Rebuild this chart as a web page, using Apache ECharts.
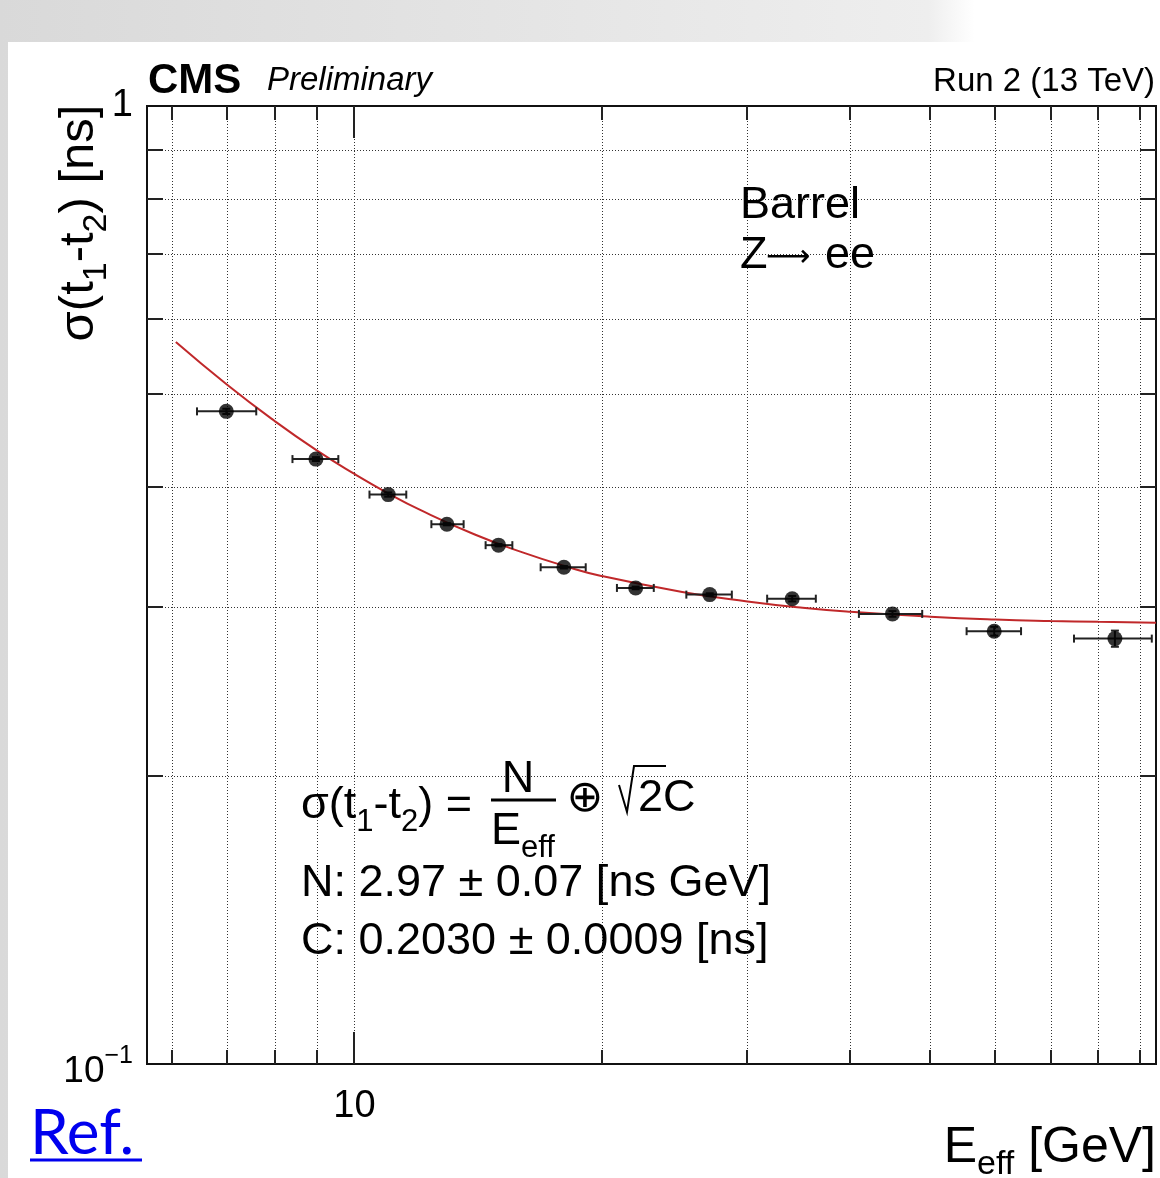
<!DOCTYPE html>
<html><head><meta charset="utf-8">
<script src="https://cdn.jsdelivr.net/npm/echarts@6/dist/echarts.min.js"></script>
<style>html,body{margin:0;padding:0;background:#fff}#c{width:1160px;height:1178px}</style>
</head><body><div id="c"></div>
<script>
// ---- data ----
const binCenter = [6.99, 8.98, 10.99, 12.95, 14.96, 17.96, 21.95, 27.0, 34.0, 45.0, 59.8, 83.8];
const binLow    = [6.44, 8.41, 10.43, 12.40, 14.43, 16.83, 20.83, 25.29, 31.70, 40.97, 55.36, 74.74];
const binHigh   = [7.60, 9.56, 11.56, 13.57, 15.55, 19.09, 23.09, 28.72, 36.32, 48.9, 64.46, 92.9];
const sigma     = [0.480, 0.428, 0.393, 0.366, 0.348, 0.330, 0.314, 0.309, 0.306, 0.295, 0.283, 0.278];
const sigmaErr  = [0.003, 0.002, 0.002, 0.001, 0.001, 0.001, 0.001, 0.001, 0.002, 0.002, 0.003, 0.0054];
// fit curve
const fitE = [6.07, 7, 8, 9, 10, 11, 12, 14, 16, 18, 20, 25, 30, 35, 40, 50, 60, 70, 80, 94];
const fitS = [0.567, 0.512, 0.469, 0.437, 0.413, 0.394, 0.379, 0.357, 0.342, 0.331, 0.323, 0.311, 0.304, 0.2994, 0.2965, 0.293, 0.291, 0.290, 0.2895, 0.2888];
// axis ticks / grid
const xTicks = [6, 7, 8, 9, 10, 20, 30, 40, 50, 60, 70, 80, 90];
const xMajor = [10];
const yTicks = [0.2, 0.3, 0.4, 0.5, 0.6, 0.7, 0.8, 0.9];
const X0 = 5.6, X1 = 94, Y0 = 0.1, Y1 = 1;

const FONT = "'Liberation Sans', Arial, Helvetica, sans-serif";
const chart = echarts.init(document.getElementById('c'), null, {renderer: 'canvas'});

function gridX(params, api) {
  const v = api.value(0);
  const a = api.coord([v, Y0]), b = api.coord([v, Y1]);
  const x = Math.round(a[0]) + 0.5;
  return {type: 'line', silent: true, shape: {x1: x, y1: a[1], x2: x, y2: b[1]},
          style: {stroke: '#333', lineWidth: 1, lineDash: [1, 2]}};
}
function gridY(params, api) {
  const v = api.value(1);
  const a = api.coord([X0, v]), b = api.coord([X1, v]);
  const y = Math.round(a[1]) + 0.5;
  return {type: 'line', silent: true, shape: {x1: a[0], y1: y, x2: b[0], y2: y},
          style: {stroke: '#333', lineWidth: 1, lineDash: [1, 2]}};
}
function tickX(params, api) {
  const v = api.value(0);
  const len = xMajor.indexOf(v) >= 0 ? 32 : 14;
  const a = api.coord([v, Y0]), b = api.coord([v, Y1]);
  const x = Math.round(a[0]);
  const st = {stroke: '#222', lineWidth: 2};
  return {type: 'group', silent: true, children: [
    {type: 'line', shape: {x1: x, y1: a[1], x2: x, y2: a[1] - len}, style: st},
    {type: 'line', shape: {x1: x, y1: b[1], x2: x, y2: b[1] + len}, style: st}
  ]};
}
function tickY(params, api) {
  const v = api.value(1);
  const a = api.coord([X0, v]), b = api.coord([X1, v]);
  const y = Math.round(a[1]);
  const st = {stroke: '#222', lineWidth: 2};
  return {type: 'group', silent: true, children: [
    {type: 'line', shape: {x1: a[0], y1: y, x2: a[0] + 16, y2: y}, style: st},
    {type: 'line', shape: {x1: b[0], y1: y, x2: b[0] - 16, y2: y}, style: st}
  ]};
}
function errBars(params, api) {
  const x = api.value(0), y = api.value(1);
  const pl = api.coord([api.value(2), y]), ph = api.coord([api.value(3), y]);
  const pb = api.coord([x, api.value(4)]), pt = api.coord([x, api.value(5)]);
  const st = {stroke: '#222', lineWidth: 2};
  const c = 4;
  return {type: 'group', children: [
    {type: 'line', shape: {x1: pl[0], y1: pl[1], x2: ph[0], y2: ph[1]}, style: st},
    {type: 'line', shape: {x1: pl[0], y1: pl[1] - c, x2: pl[0], y2: pl[1] + c}, style: st},
    {type: 'line', shape: {x1: ph[0], y1: ph[1] - c, x2: ph[0], y2: ph[1] + c}, style: st},
    {type: 'line', shape: {x1: pb[0], y1: pb[1], x2: pt[0], y2: pt[1]}, style: st},
    {type: 'line', shape: {x1: pb[0] - c, y1: pb[1], x2: pb[0] + c, y2: pb[1]}, style: st},
    {type: 'line', shape: {x1: pt[0] - c, y1: pt[1], x2: pt[0] + c, y2: pt[1]}, style: st}
  ]};
}

const subRich = {
  m: {fontFamily: FONT, fontSize: 45, lineHeight: 64, verticalAlign: 'middle', color: '#000'},
  s: {fontFamily: FONT, fontSize: 31, lineHeight: 30, verticalAlign: 'bottom', color: '#000'}
};
const titleRich = {
  m: {fontFamily: FONT, fontSize: 49, lineHeight: 70, verticalAlign: 'middle', color: '#000'},
  s: {fontFamily: FONT, fontSize: 34, lineHeight: 33, verticalAlign: 'bottom', color: '#000'}
};

const option = {
  animation: false,
  backgroundColor: {type: 'linear', x: 0, y: 0, x2: 1, y2: 0, colorStops: [
    {offset: 0, color: '#d9d9d9'}, {offset: 0.5, color: '#e6e6e6'},
    {offset: 0.8, color: '#eeeeee'}, {offset: 0.84, color: '#ffffff'}, {offset: 1, color: '#ffffff'}]},
  grid: {left: 147, top: 106, right: 4, bottom: 114, show: true, borderColor: '#111', borderWidth: 2, backgroundColor: '#fff'},
  xAxis: {
    type: 'log', logBase: 10, min: X0, max: X1,
    axisLine: {show: false}, axisTick: {show: false}, splitLine: {show: false}, minorSplitLine: {show: false},
    axisLabel: {show: true, margin: 24, fontFamily: FONT, fontSize: 38, color: '#000',
      formatter: v => Math.abs(v - 10) < 1e-6 ? '10' : ''}
  },
  yAxis: {
    type: 'log', logBase: 10, min: Y0, max: Y1,
    axisLine: {show: false}, axisTick: {show: false}, splitLine: {show: false},
    axisLabel: {show: true, margin: 14, fontFamily: FONT, color: '#000',
      formatter: v => Math.abs(v - 1) < 1e-6 ? '{a|1}' : (Math.abs(v - 0.1) < 1e-6 ? '{c|10}{d|\u22121}' : ''),
      rich: {a: {fontFamily: FONT, fontSize: 38, lineHeight: 44, color: '#000'},
             c: {fontFamily: FONT, fontSize: 37, lineHeight: 44, padding: [16, 0, 0, 0], color: '#000'},
             d: {fontFamily: FONT, fontSize: 25, lineHeight: 26, padding: [2, 0, 0, 0], verticalAlign: 'top', color: '#000'}}}
  },
  graphic: {elements: [
    {type: 'rect', z: -100, silent: true, shape: {x: 8, y: 42, width: 1152, height: 1136}, style: {fill: '#fff'}},
    {type: 'text', z: 100, x: 148, y: 81, style: {text: 'CMS', font: 'bold 42px ' + FONT, fill: '#000', verticalAlign: 'middle'}},
    {type: 'text', z: 100, x: 267, y: 81, style: {text: 'Preliminary', font: 'italic 33px ' + FONT, fill: '#000', verticalAlign: 'middle'}},
    {type: 'text', z: 100, x: 1155, y: 82, style: {text: 'Run 2 (13 TeV)', font: '33px ' + FONT, fill: '#000', align: 'right', verticalAlign: 'middle'}},
    {type: 'text', z: 100, x: 79, y: 223, rotation: Math.PI / 2,
      style: {text: '{m|\u03c3(t}{s|1}{m|-t}{s|2}{m|) [ns]}', rich: titleRich, align: 'center', verticalAlign: 'middle'}},
    {type: 'text', z: 100, x: 1156, y: 1148,
      style: {text: '{m|E}{s|eff}{m| [GeV]}', rich: {
        m: {fontFamily: FONT, fontSize: 50, lineHeight: 68, verticalAlign: 'middle', color: '#000'},
        s: {fontFamily: FONT, fontSize: 34, lineHeight: 33, verticalAlign: 'bottom', color: '#000'}},
        align: 'right', verticalAlign: 'middle'}},
    {type: 'text', z: 100, x: 740, y: 206, style: {text: 'Barrel', font: '45px ' + FONT, fill: '#000', verticalAlign: 'middle'}},
    {type: 'text', z: 100, x: 740, y: 256, style: {text: 'Z', font: '45px ' + FONT, fill: '#000', verticalAlign: 'middle'}},
    {type: 'text', z: 100, x: 766, y: 258, style: {text: '\u27f6', font: '31px "DejaVu Sans", ' + FONT, fill: '#000', verticalAlign: 'middle'}},
    {type: 'text', z: 100, x: 825, y: 256, style: {text: 'ee', font: '45px ' + FONT, fill: '#000', verticalAlign: 'middle'}},
    // formula
    {type: 'text', z: 100, x: 301, y: 806, style: {text: '{m|\u03c3(t}{s|1}{m|-t}{s|2}{m|) =}', rich: subRich, verticalAlign: 'middle'}},
    {type: 'text', z: 100, x: 518, y: 780, style: {text: 'N', font: '45px ' + FONT, fill: '#000', align: 'center', verticalAlign: 'middle'}},
    {type: 'line', z: 100, shape: {x1: 491, y1: 800, x2: 556, y2: 800}, style: {stroke: '#000', lineWidth: 3}},
    {type: 'text', z: 100, x: 491, y: 832, style: {text: '{m|E}{s|eff}', rich: subRich, verticalAlign: 'middle'}},
    {type: 'text', z: 100, x: 585, y: 800, style: {text: '\u2295', font: '44px "DejaVu Sans", ' + FONT, fill: '#000', align: 'center', verticalAlign: 'middle'}},
    {type: 'polyline', z: 100, shape: {points: [[619, 785], [627, 812], [634, 766], [666, 766]]}, style: {stroke: '#000', lineWidth: 2, fill: null}},
    {type: 'text', z: 100, x: 638, y: 799, style: {text: '2C', font: '45px ' + FONT, fill: '#000', verticalAlign: 'middle'}},
    {type: 'text', z: 100, x: 301, y: 884, style: {text: 'N: 2.97 \u00b1 0.07 [ns GeV]', font: '45px ' + FONT, fill: '#000', verticalAlign: 'middle'}},
    {type: 'text', z: 100, x: 301, y: 942, style: {text: 'C: 0.2030 \u00b1 0.0009 [ns]', font: '45px ' + FONT, fill: '#000', verticalAlign: 'middle'}},
    // Ref. link
    {type: 'text', z: 100, x: 30, y: 1134, style: {text: 'Ref.', font: '62px Lato, "Open Sans", sans-serif', fill: '#0000ee', verticalAlign: 'middle'}},
    {type: 'line', z: 100, shape: {x1: 30, y1: 1160, x2: 142, y2: 1160}, style: {stroke: '#0000ee', lineWidth: 3}}
  ]},
  series: [
    {type: 'custom', z: 1, silent: true, renderItem: gridX, data: xTicks.map(v => [v, 0.5]), encode: {x: 0, y: 1}},
    {type: 'custom', z: 1, silent: true, renderItem: gridY, data: yTicks.map(v => [10, v]), encode: {x: 0, y: 1}},
    {type: 'line', z: 3, smooth: true, showSymbol: false, silent: true,
      data: fitE.map((e, i) => [e, fitS[i]]), lineStyle: {color: '#c0282a', width: 2}},
    {type: 'custom', z: 4, silent: true, renderItem: errBars,
      data: binCenter.map((x, i) => [x, sigma[i], binLow[i], binHigh[i], sigma[i] - sigmaErr[i], sigma[i] + sigmaErr[i]]),
      encode: {x: 0, y: 1}},
    {type: 'scatter', z: 5, silent: true, symbol: 'circle', symbolSize: 15,
      itemStyle: {color: '#000'}, data: binCenter.map((x, i) => [x, sigma[i]])},
    {type: 'custom', z: 6, silent: true, renderItem: tickX, data: xTicks.map(v => [v, 0.5]), encode: {x: 0, y: 1}},
    {type: 'custom', z: 6, silent: true, renderItem: tickY, data: yTicks.map(v => [10, v]), encode: {x: 0, y: 1}}
  ]
};
chart.setOption(option);
</script>
</body></html>
